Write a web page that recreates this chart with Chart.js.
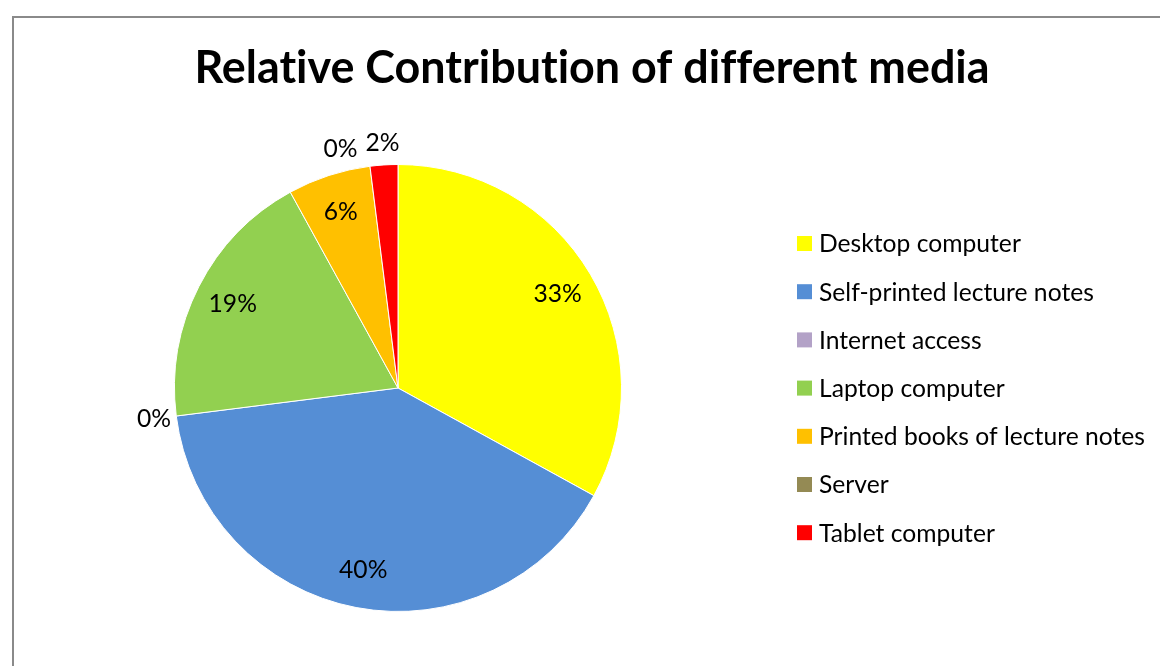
<!DOCTYPE html>
<html>
<head>
<meta charset="utf-8">
<script src="https://cdn.jsdelivr.net/npm/chart.js@4.4.0/dist/chart.umd.min.js"></script>
<style>
    html, body { margin: 0; padding: 0; background: #fff; overflow: hidden; }
    #frame {
        position: absolute; left: 12px; top: 16px; width: 1160px; height: 666px;
        border-left: 2px solid #8a8a8a; border-top: 2px solid #8a8a8a;
    }
    #pie { position: absolute; left: 0; top: 0; }
</style>
</head>
<body>
<div id="frame"></div>
<canvas id="pie" width="1160" height="666"></canvas>
<script>
const chartTitle = 'Relative Contribution of different media';
const categories = [
    'Desktop computer',
    'Self-printed lecture notes',
    'Internet access',
    'Laptop computer',
    'Printed books of lecture notes',
    'Server',
    'Tablet computer'
];
const shares = [33, 40, 0, 19, 6, 0, 2];
const sliceColors = ['#FFFF00', '#558ED5', '#B3A2C7', '#92D050', '#FFC000', '#948A54', '#FF0000'];

const FONT = 'Lato, "Open Sans", sans-serif';

// pick a font size so the text spans the given width
function fitSize(ctx, texts, weight, width) {
    ctx.font = weight + ' 100px ' + FONT;
    let widest = 0;
    texts.forEach(t => { widest = Math.max(widest, ctx.measureText(t).width); });
    return 100 * width / widest;
}

function overlaps(a, b) {
    return a.x1 < b.x2 && b.x1 < a.x2 && a.y1 < b.y2 && b.y1 < a.y2;
}

// title, percentage labels and the legend on the right
const decorations = {
    id: 'decorations',
    afterDraw(chart) {
        const ctx = chart.ctx;
        const meta = chart.getDatasetMeta(0);
        const ds = chart.data.datasets[0];
        const total = ds.data.reduce((a, b) => a + b, 0);

        ctx.save();
        // no "ti" / "ff" ligatures
        ctx.textRendering = 'optimizeSpeed';
        ctx.letterSpacing = '0.01px';
        ctx.fillStyle = '#000';

        // title
        const titleSize = fitSize(ctx, [chartTitle], 'bold', 795);
        ctx.font = 'bold ' + titleSize + 'px ' + FONT;
        ctx.textAlign = 'center';
        ctx.textBaseline = 'alphabetic';
        ctx.fillText(chartTitle, 592, 83);

        // legend
        const textSize = fitSize(ctx, chart.data.labels, 'normal', 326);
        ctx.font = textSize + 'px ' + FONT;
        ctx.textAlign = 'left';
        ctx.textBaseline = 'middle';
        chart.data.labels.forEach((label, i) => {
            const cy = 243.5 + i * 48.2;
            ctx.fillStyle = ds.backgroundColor[i];
            ctx.fillRect(797, cy - 7.5, 15, 15);
            ctx.fillStyle = '#000';
            ctx.fillText(label, 819, cy + 1);
        });

        // percentage labels: inside the slice, small ones just outside the rim
        ctx.textAlign = 'center';
        const placed = [];
        const order = meta.data.map((arc, i) => i).reverse();
        order.forEach(i => {
            const arc = meta.data[i];
            const p = arc.getProps(['x', 'y', 'startAngle', 'endAngle', 'outerRadius'], true);
            const share = ds.data[i] / total;
            const text = Math.round(share * 100) + '%';
            const w = ctx.measureText(text).width;
            const h = textSize;
            let angle = (p.startAngle + p.endAngle) / 2;
            const outside = share < 0.03;
            const r = outside ? p.outerRadius * 1.1 : p.outerRadius * 0.83;
            let x, y, box;
            for (let step = 0; step < 200; step++) {
                x = p.x + r * Math.cos(angle);
                y = p.y + r * Math.sin(angle);
                box = { x1: x - w / 2 - 3, x2: x + w / 2 + 3, y1: y - h / 2, y2: y + h / 2 };
                if (!outside || !placed.some(b => overlaps(b, box))) break;
                angle -= 0.01;
            }
            placed.push(box);
            ctx.fillText(text, x, y);
        });
        ctx.restore();
    }
};

new Chart(document.getElementById('pie'), {
    type: 'pie',
    data: {
        labels: categories,
        datasets: [{
            data: shares,
            backgroundColor: sliceColors,
            borderColor: '#ffffff',
            borderWidth: 1
        }]
    },
    options: {
        responsive: false,
        animation: false,
        layout: {
            padding: { left: 174, right: 538, top: 164, bottom: 54 }
        },
        plugins: {
            legend: { display: false },
            title: { display: false },
            tooltip: { enabled: false }
        }
    },
    plugins: [decorations]
});
</script>
</body>
</html>
